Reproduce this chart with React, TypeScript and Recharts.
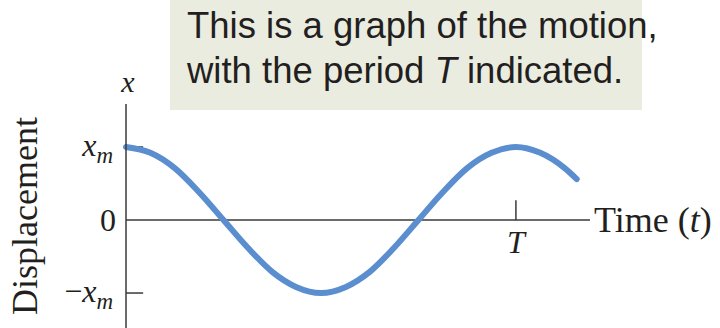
import { LineChart, Line, XAxis, YAxis, ReferenceLine } from "recharts";

// time in periods, displacement in units of x_m
const times = [
  0, 0.0625, 0.125, 0.1875, 0.25, 0.3125, 0.375, 0.4375, 0.5, 0.5625, 0.625,
  0.6875, 0.75, 0.8125, 0.875, 0.9375, 1, 1.0625, 1.125, 1.156,
];
const displacement = [
  1, 0.92, 0.71, 0.38, 0, -0.38, -0.71, -0.92, -1, -0.92, -0.71, -0.38, 0,
  0.38, 0.71, 0.92, 1, 0.92, 0.71, 0.56,
];
const yTicks = [-1, 0, 1];
const yTickLabels = ["−x_m", "0", "x_m"];
const periodTick = 1;
const periodLabel = "T";

const data = times.map((t, i) => ({ t, x: displacement[i] }));

const serif = "'Liberation Serif', 'Times New Roman', serif";
const ink = "#231f20";
const axisColor = "#3a3a3a";
const curveColor = "#5a8ecf";

const YTick = ({ x, y, payload }: any) => {
  const label = yTickLabels[yTicks.indexOf(payload.value)] ?? "";
  const right = x - 5;
  if (!label.includes("_")) {
    return (
      <text x={right + 3} y={y + 11} textAnchor="end" fontFamily={serif} fontSize={32} fill={ink}>
        {label}
      </text>
    );
  }
  const [base, sub] = label.split("_");
  const neg = base.startsWith("−");
  return (
    <text x={right} y={y + 9} textAnchor="end" fontFamily={serif} fill={ink}>
      {neg && <tspan fontSize={32}>−</tspan>}
      <tspan fontSize={32} fontStyle="italic">
        {neg ? base.slice(1) : base}
      </tspan>
      <tspan fontSize={23} fontStyle="italic" dy={7}>
        {sub}
      </tspan>
    </text>
  );
};

const AxisTitles = ({ viewBox }: any) => {
  const { x, y, width, height } = viewBox;
  const cx = x - 29;
  const cy = y + height / 2;
  return (
    <g>
      <text
        x={cx}
        y={cy}
        transform={`rotate(-90 ${cx} ${cy})`}
        textAnchor="middle"
        fontFamily={serif}
        fontSize={36}
        fill={ink}
      >
        Displacement
      </text>
      <text x={x + width + 2} y={y - 12} textAnchor="middle" fontFamily={serif} fontStyle="italic" fontSize={30} fill={ink}>
        x
      </text>
    </g>
  );
};

const TimeTitle = ({ viewBox }: any) => (
  <text x={viewBox.x + viewBox.width + 4} y={viewBox.y + 12} fontFamily={serif} fontSize={36} fill={ink}>
    Time (<tspan fontStyle="italic">t</tspan>)
  </text>
);

const PeriodLabel = ({ viewBox }: any) => (
  <text
    x={viewBox.x}
    y={viewBox.y + viewBox.height + 33}
    textAnchor="middle"
    fontFamily={serif}
    fontStyle="italic"
    fontSize={32}
    fill={ink}
  >
    {periodLabel}
  </text>
);

export default function App() {
  return (
    <div style={{ position: "absolute", left: 0, top: 0, width: 720, height: 328, background: "#fff" }}>
      <LineChart width={720} height={328} data={data} margin={{ top: 104, right: 130, bottom: 0, left: 66 }}>
        <XAxis dataKey="t" type="number" domain={[0, 1.19]} hide />
        <YAxis
          type="number"
          domain={[-1.479, 1.589]}
          ticks={yTicks}
          width={60}
          axisLine={{ stroke: axisColor, strokeWidth: 1.5 }}
          tickLine={false}
          tick={<YTick />}
          label={{ content: <AxisTitles /> }}
        />
        {/* time axis through zero displacement */}
        <ReferenceLine y={0} stroke={axisColor} strokeWidth={1.5} label={{ content: <TimeTitle /> }} />
        {/* inward ticks at ±x_m */}
        {yTicks
          .filter((v) => v !== 0)
          .map((v) => (
            <ReferenceLine
              key={v}
              segment={[
                { x: 0, y: v },
                { x: 0.044, y: v },
              ]}
              stroke={axisColor}
              strokeWidth={1.5}
            />
          ))}
        <ReferenceLine
          segment={[
            { x: periodTick, y: 0 },
            { x: periodTick, y: 0.27 },
          ]}
          stroke={axisColor}
          strokeWidth={1.5}
          label={{ content: <PeriodLabel /> }}
        />
        <Line
          dataKey="x"
          type="monotone"
          stroke={curveColor}
          strokeWidth={6}
          strokeLinecap="round"
          dot={false}
          isAnimationActive={false}
        />
      </LineChart>
      <div
        style={{
          position: "absolute",
          left: 170,
          top: 0,
          width: 472,
          height: 110,
          boxSizing: "border-box",
          background: "#ebece0",
          padding: "3px 0 0 17px",
          fontFamily: "'Liberation Sans', Arial, sans-serif",
          fontSize: 36.5,
          lineHeight: "45px",
          color: ink,
          whiteSpace: "nowrap",
        }}
      >
        This is a graph of the motion,
        <br />
        with the period <i>T</i> indicated.
      </div>
    </div>
  );
}
